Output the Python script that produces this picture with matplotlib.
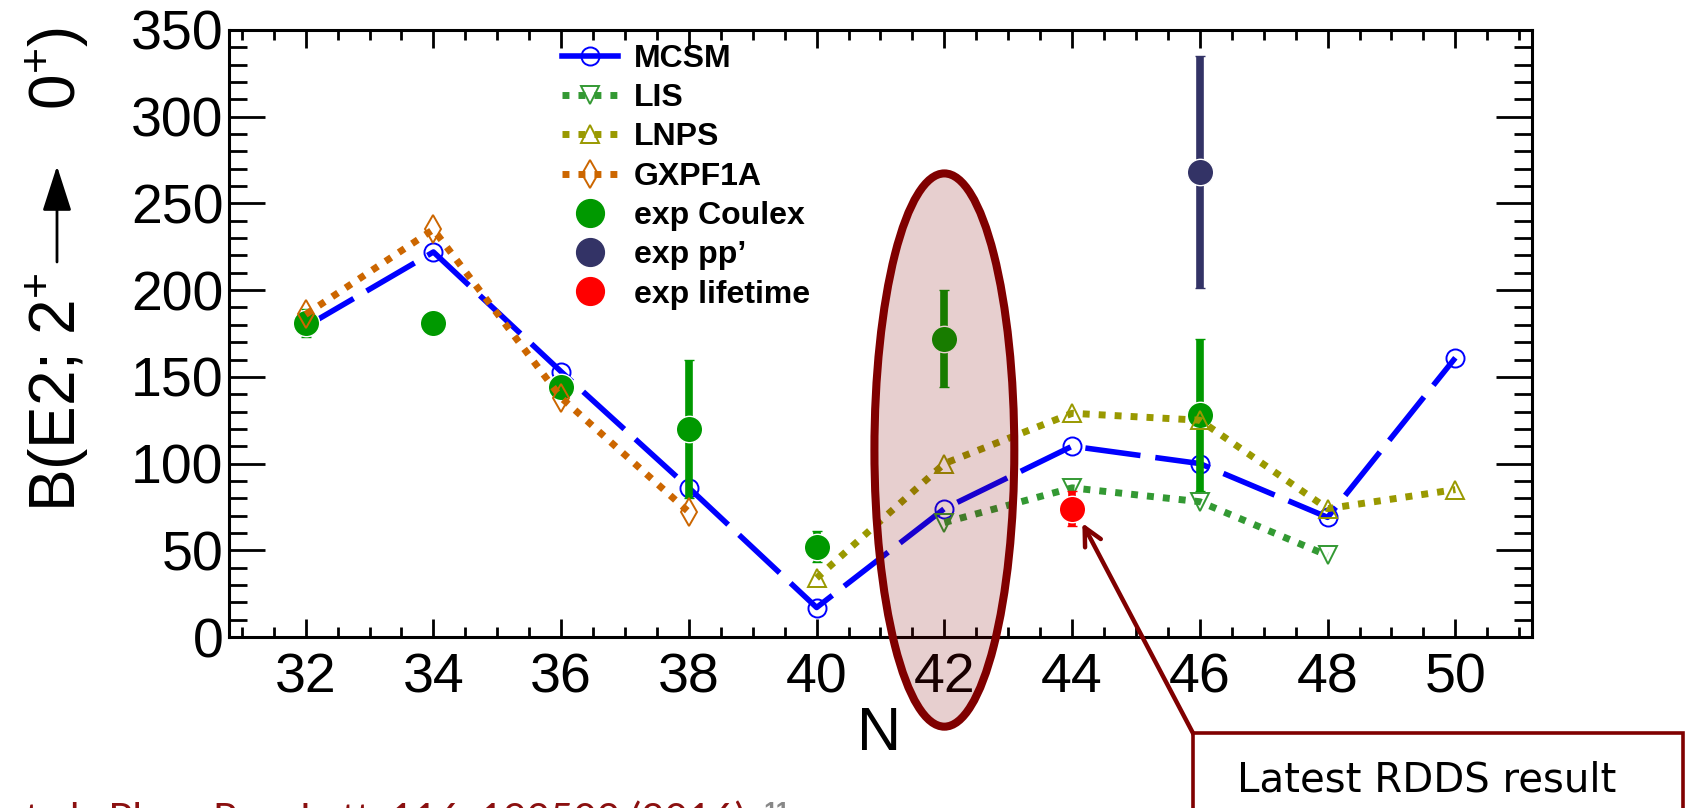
import matplotlib
matplotlib.use("Agg")
import matplotlib.pyplot as plt
from matplotlib.patches import Ellipse, Rectangle
from matplotlib.lines import Line2D
from matplotlib.ticker import MultipleLocator

# B(E2; 2+ -> 0+) systematics vs neutron number
n_mcsm = [32, 34, 36, 38, 40, 42, 44, 46, 48, 50]
be2_mcsm = [179, 222, 153, 86, 17, 74, 110, 100, 69, 161]

n_lis = [42, 44, 46, 48]
be2_lis = [66, 86, 78, 47]

n_lnps = [40, 42, 44, 46, 48, 50]
be2_lnps = [34, 100, 129, 125, 74, 85]

n_gxpf = [32, 34, 36, 38]
be2_gxpf = [186, 235, 138, 72]

n_coulex = [32, 34, 36, 38, 40, 42, 46]
be2_coulex = [181, 181, 144, 120, 52, 172, 128]
err_coulex = [8, 0, 5, 40, 9, 28, 44]

n_pp = [46]
be2_pp = [268]
err_pp = [67]

n_life = [44]
be2_life = [74]
err_life = [10]

BLUE = "#0000ff"
LIS_C = "#339933"
LNPS_C = "#999900"
GXPF_C = "#cc6600"
COULEX_C = "#009900"
PP_C = "#333366"
LIFE_C = "#ff0000"
MAROON = "#800000"

plt.rcParams["font.family"] = ["Liberation Sans", "DejaVu Sans"]
plt.rcParams["mathtext.fontset"] = "custom"
plt.rcParams["mathtext.rm"] = "Liberation Sans"
plt.rcParams["mathtext.it"] = "Liberation Sans:italic"
plt.rcParams["mathtext.bf"] = "Liberation Sans:bold"

fig = plt.figure(figsize=(16.91, 8.08), dpi=100)
W, H = 1691.0, 808.0
ax = fig.add_axes([229 / W, 1 - 637 / H, 1303 / W, 607 / H])

dash_lw = 4.0
dot_lw = 5.0

ax.plot(n_mcsm, be2_mcsm, color=BLUE, lw=dash_lw, dashes=(10, 2.7),
        marker="o", ms=13, mfc="none", mec=BLUE, mew=1.4, zorder=3)

ax.errorbar(n_coulex, be2_coulex, yerr=err_coulex, fmt="o", ms=19,
            color=COULEX_C, mec="white", mew=1.0, elinewidth=5.5,
            capsize=3.5, capthick=4, zorder=4)

ax.plot(n_lis, be2_lis, color=LIS_C, lw=dot_lw, dashes=(1, 1.3),
        marker="v", ms=13, mfc="none", mec=LIS_C, mew=1.4, zorder=5)
ax.plot(n_lnps, be2_lnps, color=LNPS_C, lw=dot_lw, dashes=(1, 1.3),
        marker="^", ms=13, mfc="none", mec=LNPS_C, mew=1.4, zorder=5)
ax.plot(n_gxpf, be2_gxpf, color=GXPF_C, lw=dot_lw, dashes=(1, 1.3),
        marker="d", ms=14, mfc="none", mec=GXPF_C, mew=1.4, zorder=5)

ax.errorbar(n_pp, be2_pp, yerr=err_pp, fmt="o", ms=19,
            color=PP_C, mec="white", mew=1.0, elinewidth=5.5,
            capsize=3.5, capthick=4, zorder=6)
ax.errorbar(n_life, be2_life, yerr=err_life, fmt="o", ms=19,
            color=LIFE_C, mec="white", mew=1.0, elinewidth=5.5,
            capsize=3.5, capthick=4, zorder=6)

ax.set_xlim(30.8, 51.2)
ax.set_ylim(0, 350)
ax.xaxis.set_major_locator(MultipleLocator(2))
ax.xaxis.set_minor_locator(MultipleLocator(0.5))
ax.yaxis.set_major_locator(MultipleLocator(50))
ax.yaxis.set_minor_locator(MultipleLocator(10))

for s in ax.spines.values():
    s.set_linewidth(2.2)
ax.tick_params(which="both", direction="in", top=True, right=True, width=2)
ax.tick_params(axis="x", which="major", length=13, labelsize=40, pad=11)
ax.tick_params(axis="x", which="minor", length=7)
ax.tick_params(axis="y", which="major", length=26, labelsize=40, pad=4)
ax.tick_params(axis="y", which="minor", length=13)

# y title in three parts so the arrow can have a solid head
ylab = dict(rotation=90, rotation_mode="anchor", va="baseline", fontsize=46)
fig.text(76 / W, 1 - 27 / H, r"0$^{+}$)", ha="right", **ylab)
fig.text(76 / W, 1 - 512 / H, r"B(E2; 2$^{+}$", ha="left", **ylab)
fig.add_artist(plt.Annotation(
    "", xy=(57, H - 166), xycoords="figure pixels",
    xytext=(57, H - 262), textcoords="figure pixels",
    arrowprops=dict(arrowstyle="-|>,head_length=1.4,head_width=0.45",
                    color="black", lw=2.0, mutation_scale=20,
                    shrinkA=0, shrinkB=0)))

fig.text(879 / W, 1 - 750 / H, "N", ha="center", va="baseline", fontsize=44)

# legend
handles = [
    Line2D([], [], color=BLUE, lw=dash_lw, marker="o", ms=13, mfc="none",
           mec=BLUE, mew=1.4),
    Line2D([], [], color=LIS_C, lw=dot_lw, dashes=(1, 1.3), marker="v", ms=13,
           mfc="none", mec=LIS_C, mew=1.4),
    Line2D([], [], color=LNPS_C, lw=dot_lw, dashes=(1, 1.3), marker="^", ms=13,
           mfc="none", mec=LNPS_C, mew=1.4),
    Line2D([], [], color=GXPF_C, lw=dot_lw, dashes=(1, 1.3), marker="d", ms=14,
           mfc="none", mec=GXPF_C, mew=1.4),
    Line2D([], [], ls="none", marker="o", ms=20, color=COULEX_C),
    Line2D([], [], ls="none", marker="o", ms=20, color=PP_C),
    Line2D([], [], ls="none", marker="o", ms=20, color=LIFE_C),
]
labels = ["MCSM", "LIS", "LNPS", "GXPF1A", "exp Coulex", "exp pp\u2019",
          "exp lifetime"]
ax.legend(handles, labels, loc="upper left", bbox_to_anchor=(0.2556, 0.977),
          frameon=False, borderpad=0, borderaxespad=0, handlelength=1.75,
          handletextpad=0.5, labelspacing=0.29, numpoints=1,
          prop={"weight": "bold", "size": 23})

# highlighted N=42 region and pointer to the new measurement
ell = Ellipse((42, 107.8), width=2.19, height=319, transform=ax.transData,
              facecolor=(0.5, 0.0, 0.0, 0.19), edgecolor=MAROON, lw=5.8,
              clip_on=False, zorder=10)
ax.add_patch(ell)

ax.annotate("", xy=(44.16, 65.7), xycoords="data",
            xytext=(1195 / W, 1 - 737 / H), textcoords="figure fraction",
            arrowprops=dict(arrowstyle="->", color=MAROON, lw=3.2,
                            mutation_scale=32, shrinkA=0, shrinkB=0),
            annotation_clip=False, zorder=11)

box = Rectangle((1193 / W, 1 - 840 / H), (1683 - 1193) / W, (840 - 733) / H,
                transform=fig.transFigure, facecolor="white",
                edgecolor=MAROON, lw=2.6, zorder=12)
fig.add_artist(box)
fig.text(1427 / W, 1 - 791 / H, "Latest RDDS result", ha="center",
         va="baseline", fontsize=29, family="DejaVu Sans", zorder=13)

fig.text(745 / W, 1 - 800 / H, "et al., Phys. Rev. Lett. 116, 192502 (2016)",
         ha="right", va="top", fontsize=29, family="Lato", color="#8b1010")
fig.text(777 / W, 1 - 801 / H, "11", ha="center", va="top", fontsize=18,
         weight="bold", color="#888888")

fig.savefig("out.png", dpi=100)
